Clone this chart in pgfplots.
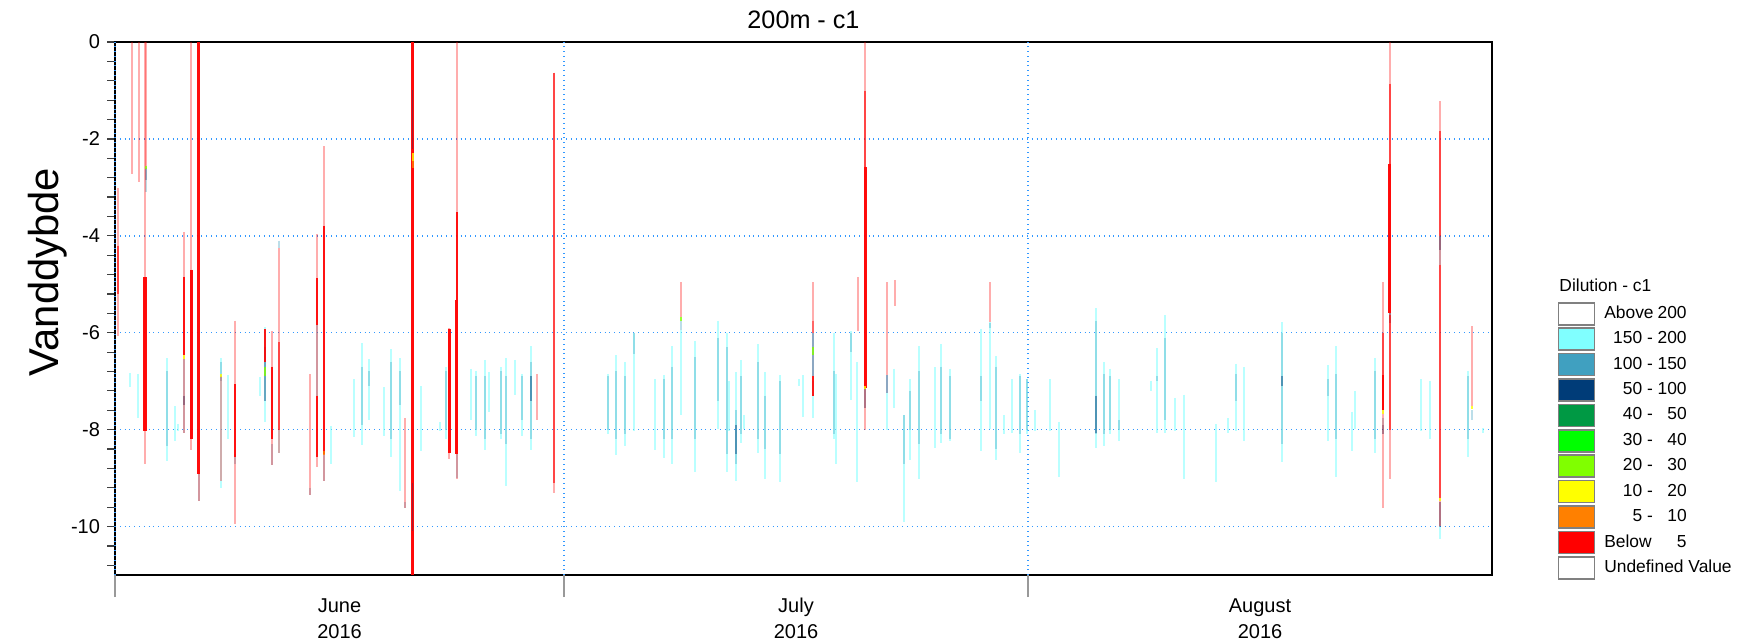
\documentclass[border=0pt]{standalone}
\usepackage{fontspec}
\setmainfont{Liberation Sans}
\usepackage{pgfplots}
\usepackage{pgfplotstable}
\pgfplotsset{compat=1.18}

\definecolor{c150}{RGB}{128,255,255}
\definecolor{c100}{RGB}{64,160,192}
\definecolor{c50}{RGB}{0,60,120}
\definecolor{c40}{RGB}{0,153,68}
\definecolor{c30}{RGB}{0,255,0}
\definecolor{c20}{RGB}{128,255,0}
\definecolor{c10}{RGB}{255,255,0}
\definecolor{c5}{RGB}{255,128,0}
\definecolor{c0}{RGB}{255,0,0}
\definecolor{gridblue}{RGB}{51,153,255}
\definecolor{boxgray}{RGB}{128,128,128}

% profiles: d = days since 1 June 2016, t = upper depth, b = lower depth
% 150 - 200
\pgfplotstableread{
d t b
1.00 -6.83 -7.13
1.51 -6.85 -7.77
3.49 -6.53 -8.64
4.00 -7.52 -8.24
4.20 -7.88 -8.02
7.09 -6.53 -9.20
7.56 -6.88 -8.20
9.67 -6.92 -7.31
10.00 -5.89 -7.85
10.93 -8.00 -8.49
14.40 -7.92 -8.70
15.96 -6.96 -8.16
16.47 -6.21 -8.31
16.96 -6.55 -7.81
17.96 -7.13 -8.13
18.47 -6.34 -8.57
19.02 -6.53 -9.27
20.47 -7.10 -8.45
21.72 -7.84 -8.02
22.10 -6.71 -8.20
23.80 -6.74 -7.81
24.13 -6.78 -8.13
24.69 -6.56 -8.41
25.00 -6.81 -7.63
25.80 -6.71 -8.20
26.10 -6.53 -9.16
26.70 -6.56 -7.28
27.20 -6.85 -8.13
27.80 -6.28 -8.41
32.96 -6.85 -8.09
33.47 -6.46 -8.52
34.05 -6.60 -8.34
34.65 -6.00 -8.02
36.05 -6.96 -8.41
36.68 -6.88 -8.59
37.23 -6.28 -8.70
37.79 -5.95 -7.70
38.72 -6.17 -8.88
40.26 -5.75 -7.99
40.86 -6.00 -8.88
41.04 -6.99 -8.02
41.46 -6.81 -9.05
41.82 -6.56 -8.27
42.02 -7.70 -7.99
42.97 -6.24 -8.49
43.40 -6.81 -9.02
44.42 -6.88 -9.09
45.67 -6.96 -7.10
45.98 -6.88 -7.74
46.64 -7.00 -7.77
48.05 -6.00 -8.20
48.20 -6.85 -8.70
49.16 -5.96 -7.38
49.56 -6.60 -9.09
51.58 -7.25 -8.00
52.07 -6.74 -7.56
52.72 -7.70 -9.91
53.14 -6.96 -8.63
53.74 -6.28 -9.02
54.77 -6.71 -8.38
55.21 -6.24 -8.27
55.77 -6.74 -8.24
57.84 -5.92 -8.45
58.44 -5.78 -7.99
58.88 -6.49 -8.63
59.40 -7.70 -8.10
59.90 -6.96 -8.06
60.44 -6.85 -8.49
60.95 -6.96 -8.09
61.45 -7.60 -8.02
62.49 -6.96 -8.02
63.07 -7.84 -8.98
65.57 -5.50 -8.38
66.06 -6.60 -8.34
66.50 -6.74 -8.09
67.08 -6.96 -8.24
69.20 -6.99 -7.20
69.64 -6.32 -8.06
70.13 -5.64 -8.06
70.80 -7.35 -8.02
71.40 -7.28 -9.02
73.58 -7.88 -9.09
74.36 -7.77 -8.06
74.92 -6.64 -8.02
75.43 -6.71 -8.24
77.99 -5.78 -8.66
81.04 -6.67 -8.24
81.60 -6.28 -8.98
82.65 -7.63 -8.45
82.83 -7.20 -7.99
84.16 -6.53 -8.49
87.26 -6.96 -8.02
87.88 -6.99 -8.20
88.50 -10.00 -10.26
90.40 -6.78 -8.56
91.40 -7.97 -8.06
}\tabL

% 100 - 150
\pgfplotstableread{
d t b
2.10 -2.85 -3.10
3.49 -6.80 -8.34
4.62 -6.55 -8.06
5.58 -8.90 -9.48
7.09 -6.60 -7.00
8.02 -8.50 -8.70
10.49 -8.30 -8.73
10.93 -4.10 -4.25
13.02 -9.20 -9.34
13.50 -5.85 -7.30
13.98 -8.50 -9.05
16.47 -6.70 -7.90
16.96 -6.80 -7.10
18.47 -6.60 -8.20
19.02 -6.80 -7.50
19.40 -9.50 -9.62
22.10 -6.80 -8.00
22.84 -8.50 -9.00
24.13 -6.90 -8.00
24.69 -6.90 -8.20
25.80 -6.80 -8.10
26.10 -6.90 -8.30
27.20 -6.90 -7.80
27.80 -6.60 -8.20
32.96 -6.90 -8.00
33.47 -6.80 -8.20
34.05 -6.90 -8.10
34.65 -6.00 -6.44
36.68 -6.95 -8.20
37.23 -6.70 -8.20
37.79 -5.75 -5.95
38.72 -6.50 -8.20
40.26 -6.10 -7.40
40.86 -6.30 -8.50
41.46 -7.60 -8.70
41.82 -6.90 -8.10
42.97 -6.60 -8.20
43.40 -7.30 -8.40
44.42 -7.00 -8.50
48.05 -6.80 -8.10
49.16 -6.00 -6.40
52.72 -7.70 -8.70
53.14 -7.20 -8.00
53.74 -6.80 -8.30
55.21 -6.70 -8.10
55.77 -6.90 -8.20
57.84 -6.90 -7.40
58.44 -5.80 -5.90
58.88 -6.70 -8.40
60.44 -6.90 -8.10
60.95 -6.96 -8.00
65.57 -5.75 -8.10
66.06 -6.85 -8.10
66.50 -6.90 -8.00
67.08 -7.80 -8.00
69.64 -6.90 -7.00
70.13 -6.10 -7.80
74.92 -6.85 -7.40
77.99 -6.00 -8.30
81.04 -6.96 -7.30
81.60 -6.85 -8.20
84.16 -6.78 -8.20
84.72 -7.75 -7.90
88.50 -4.00 -4.60
90.40 -6.90 -8.20
90.64 -7.60 -7.81
}\tabB

% 50 - 100
\pgfplotstableread{
d t b
2.10 -2.60 -2.85
4.62 -7.30 -7.50
10.00 -6.30 -7.40
27.80 -6.90 -7.40
41.46 -7.90 -8.50
46.64 -6.00 -6.90
50.14 -7.15 -7.56
51.58 -6.88 -7.25
65.57 -7.30 -8.06
77.99 -6.90 -7.10
84.72 -7.90 -8.10
85.16 -5.60 -5.80
88.50 -4.00 -4.30
88.50 -9.50 -10.00
}\tabD

% below 5, faint
\pgfplotstableread{
d t b
0.22 -3.01 -6.07
1.11 0.00 -2.72
1.58 0.00 -2.89
2.00 0.00 -8.70
2.10 0.00 -2.60
4.62 -3.93 -8.06
5.11 0.00 -8.41
5.58 -8.91 -9.48
7.09 -6.90 -9.05
8.02 -5.75 -9.94
10.49 -5.96 -8.73
10.93 -4.25 -8.49
13.02 -6.85 -9.34
13.50 -3.97 -8.77
13.98 -2.15 -9.05
19.40 -7.77 -9.62
19.89 0.00 -11.00
22.33 -5.90 -8.60
22.84 0.00 -9.02
28.20 -6.85 -7.81
29.30 -0.63 -9.30
37.79 -4.96 -5.68
46.64 -4.96 -5.75
49.65 -4.86 -5.96
50.14 0.00 -8.01
51.58 -4.96 -6.88
52.14 -4.91 -5.45
58.44 -4.96 -5.78
84.72 -4.95 -9.62
85.16 0.00 -9.02
88.50 -1.22 -9.98
90.64 -5.87 -7.52
}\tabP

% below 5, medium
\pgfplotstableread{
d t b
0.22 -4.20 -5.20
10.93 -6.20 -8.00
29.30 -0.63 -9.10
46.64 -5.75 -6.00
50.14 -1.02 -2.58
84.72 -6.00 -7.60
85.16 -0.86 -2.51
85.16 -5.64 -8.00
88.50 -1.84 -4.00
88.50 -4.60 -9.41
}\tabM

% below 5, solid
\pgfplotstableread{
d t b
4.62 -4.84 -6.46
8.02 -7.06 -8.56
10.00 -5.92 -6.60
10.49 -6.70 -8.20
13.50 -4.88 -5.85
13.50 -7.30 -8.56
13.98 -3.79 -8.50
22.84 -3.51 -5.32
46.64 -6.90 -7.30
84.72 -6.88 -7.60
}\tabR

\pgfplotstableread{
d t b
2.00 -4.86 -8.02
5.11 -4.70 -8.20
5.58 0.00 -8.91
19.89 0.00 -11.00
22.33 -5.92 -8.49
22.84 -5.32 -8.50
50.14 -2.58 -7.15
85.16 -2.51 -5.60
}\tabRT

% transitions
\pgfplotstableread{
d t b
4.62 -6.46 -6.55
7.09 -6.85 -6.92
19.89 -2.30 -2.45
50.14 -7.10 -7.16
84.72 -7.60 -7.68
88.50 -9.41 -9.47
90.64 -7.52 -7.58
}\tabY

\pgfplotstableread{
d t b
2.10 -2.55 -2.62
10.00 -6.70 -6.90
37.79 -5.68 -5.75
46.64 -6.30 -6.45
}\tabG

\pgfplotstableread{
d t b
19.89 -2.45 -2.60
13.98 -8.45 -8.52
}\tabO

% narrow centre streaks inside the thick red profile
\pgfplotstableread{
d t b
19.89 -1.00 -2.20
19.89 -9.10 -10.10
}\tabDc

\newcommand\lr[2]{\makebox[41.2pt][r]{#1\makebox[14.5pt][r]{#2}}}

\begin{document}
\begin{tikzpicture}
\useasboundingbox (0,0) rectangle (869.5pt,321pt);
\begin{axis}[
    at={(57.5pt,33.5pt)}, anchor=south west,
    scale only axis, width=688.5pt, height=266.5pt,
    xmin=0, xmax=92, ymin=-11, ymax=0,
    clip=false,
    axis line style={line width=0.9pt},
    tick align=outside,
    xtick pos=bottom, ytick pos=left,
    major tick length=4pt, minor tick length=4pt,
    xtick=\empty,
    minor xtick={0,1,...,92},
    minor x tick style={gray!70, line width=0.6pt},
    extra x ticks={0,30,61},
    extra x tick labels={},
    extra x tick style={major tick length=11pt, grid=major, major tick style={gray!80, line width=0.7pt}},
    ytick={-10,-8,-6,-4,-2,0},
    yticklabels={-10,-8,-6,-4,-2,0},
    minor ytick={-10.8,-10.4,-9.6,-9.2,-8.8,-8.4,-7.6,-7.2,-6.8,-6.4,-5.6,-5.2,-4.8,-4.4,-3.6,-3.2,-2.8,-2.4,-1.6,-1.2,-0.8,-0.4},
    y tick style={black!75, line width=0.6pt},
    ymajorgrids=true,
    major grid style={gridblue, dotted, line width=0.7pt},
    yticklabel style={font=\fontsize{10}{12}\selectfont},
    legend style={at={(axis description cs:1.0477,0.5122)}, anchor=north west,
        draw=none, fill=none, inner sep=0pt, outer sep=0pt,
        row sep=0.9pt, column sep=4.5pt,
        font=\fontsize{8.7}{10}\selectfont,
        nodes={inner sep=0pt, outer sep=0pt}},
    legend cell align=left,
    legend image code/.code={\draw[#1, draw=boxgray, line width=0.8pt] (0pt,-5.5pt) rectangle (18pt,5.5pt);},
]

\addplot[forget plot, color=c150, opacity=0.55, line width=1.0pt,
    quiver={u=0, v=\thisrow{b}-(\thisrow{t})}] table[x=d, y=t] {\tabL};
\addplot[forget plot, color=c100, opacity=0.35, line width=1.0pt,
    quiver={u=0, v=\thisrow{b}-(\thisrow{t})}] table[x=d, y=t] {\tabB};
\addplot[forget plot, color=c50, opacity=0.45, line width=1.0pt,
    quiver={u=0, v=\thisrow{b}-(\thisrow{t})}] table[x=d, y=t] {\tabD};
\addplot[forget plot, color=c0, opacity=0.32, line width=1.0pt,
    quiver={u=0, v=\thisrow{b}-(\thisrow{t})}] table[x=d, y=t] {\tabP};
\addplot[forget plot, color=c0, opacity=0.6, line width=1.0pt,
    quiver={u=0, v=\thisrow{b}-(\thisrow{t})}] table[x=d, y=t] {\tabM};
\addplot[forget plot, color=c0, opacity=0.9, line width=1.0pt,
    quiver={u=0, v=\thisrow{b}-(\thisrow{t})}] table[x=d, y=t] {\tabR};
\addplot[forget plot, color=c0, opacity=0.95, line width=1.6pt,
    quiver={u=0, v=\thisrow{b}-(\thisrow{t})}] table[x=d, y=t] {\tabRT};
\addplot[forget plot, color=c50, opacity=0.35, line width=0.5pt,
    quiver={u=0, v=\thisrow{b}-(\thisrow{t})}] table[x=d, y=t] {\tabDc};
\addplot[forget plot, color=c10, opacity=0.8, line width=1.0pt,
    quiver={u=0, v=\thisrow{b}-(\thisrow{t})}] table[x=d, y=t] {\tabY};
\addplot[forget plot, color=c20, opacity=0.8, line width=1.0pt,
    quiver={u=0, v=\thisrow{b}-(\thisrow{t})}] table[x=d, y=t] {\tabG};
\addplot[forget plot, color=c5, opacity=0.8, line width=1.0pt,
    quiver={u=0, v=\thisrow{b}-(\thisrow{t})}] table[x=d, y=t] {\tabO};

\addlegendimage{fill=white}
\addlegendentry{\makebox[41.2pt][s]{Above\hfill 200}}
\addlegendimage{fill=c150}
\addlegendentry{\lr{150 - }{200}}
\addlegendimage{fill=c100}
\addlegendentry{\lr{100 - }{150}}
\addlegendimage{fill=c50}
\addlegendentry{\lr{50 - }{100}}
\addlegendimage{fill=c40}
\addlegendentry{\lr{40 - }{50}}
\addlegendimage{fill=c30}
\addlegendentry{\lr{30 - }{40}}
\addlegendimage{fill=c20}
\addlegendentry{\lr{20 - }{30}}
\addlegendimage{fill=c10}
\addlegendentry{\lr{10 - }{20}}
\addlegendimage{fill=c5}
\addlegendentry{\lr{5 - }{10}}
\addlegendimage{fill=c0}
\addlegendentry{\makebox[41.2pt][s]{Below\hfill 5}}
\addlegendimage{fill=white}
\addlegendentry{Undefined Value}

\node[font=\fontsize{12.6}{15}\selectfont] at (axis description cs:0.5,1.0422) {200m - c1};
\node[rotate=90, font=\fontsize{20.9}{24}\selectfont] at (axis description cs:-0.0487,0.5685) {Vanddybde};
\node[anchor=west, inner sep=0pt, font=\fontsize{8.7}{10}\selectfont] at (axis description cs:1.0487,0.5441) {Dilution - c1};
\node[anchor=base, inner sep=0pt, font=\fontsize{10}{12}\selectfont, yshift=-18.75pt] at (axis cs:15,-11) {June};
\node[anchor=base, inner sep=0pt, font=\fontsize{10}{12}\selectfont, yshift=-31.5pt] at (axis cs:15,-11) {2016};
\node[anchor=base, inner sep=0pt, font=\fontsize{10}{12}\selectfont, yshift=-18.75pt] at (axis cs:45.5,-11) {July};
\node[anchor=base, inner sep=0pt, font=\fontsize{10}{12}\selectfont, yshift=-31.5pt] at (axis cs:45.5,-11) {2016};
\node[anchor=base, inner sep=0pt, font=\fontsize{10}{12}\selectfont, yshift=-18.75pt] at (axis cs:76.5,-11) {August};
\node[anchor=base, inner sep=0pt, font=\fontsize{10}{12}\selectfont, yshift=-31.5pt] at (axis cs:76.5,-11) {2016};
\end{axis}
\end{tikzpicture}
\end{document}
